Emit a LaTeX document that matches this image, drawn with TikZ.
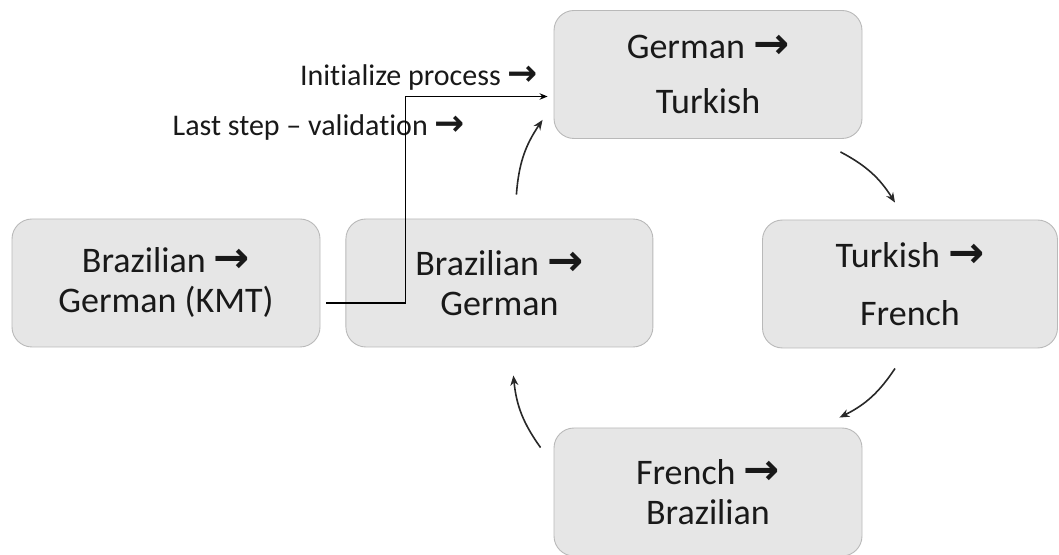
\documentclass[tikz,border=0pt]{standalone}
\usepackage{fontspec}
\setmainfont{Carlito}[Ligatures=NoCommon]
\newfontfamily\arrowfont{DejaVu Sans}[Scale=1.2]
\definecolor{boxfill}{RGB}{230,230,230}
\definecolor{boxline}{RGB}{185,185,185}
\definecolor{textgray}{RGB}{25,25,25}
\definecolor{arrowgray}{RGB}{40,40,40}
\usetikzlibrary{arrows.meta, positioning}
\newcommand{\langto}{{\arrowfont\bfseries →}}

\begin{document}
\begin{tikzpicture}[x=1pt, y=1pt,
      langbox/.style={rectangle, rounded corners=20pt, draw=boxline, fill=boxfill,
                      line width=0.9pt, minimum width=308pt, minimum height=128pt,
                      align=center, text=textgray, inner sep=0pt,
                      font=\fontsize{36}{40}\selectfont},
      flow/.style={-{Stealth[length=8pt, width=6.5pt]}, line width=1.1pt, color=black},
      looparrow/.style={-{Stealth[length=10pt, width=8pt]}, line width=1.6pt,
                        color=arrowgray, bend left=15},
      note/.style={font=\fontsize{30}{34}\selectfont, text=textgray, inner sep=0pt}
    ]
    \useasboundingbox (0,0) rectangle (1059,554);

    % Start pair
    \node[langbox] (brde-kmt) at (166,271) {Brazilian \langto\\German (KMT)};
    \node[langbox, minimum width=307pt, right=25pt of brde-kmt] (brde) {Brazilian \langto\\German};

    % Round of translations
    \node[langbox] (detr) at (708,479.5) {German \langto\\[15pt]Turkish};
    \node[langbox, minimum width=295pt] (trfr) at (910,270) {Turkish \langto\\[18pt]French};
    \node[langbox] (frbr) at (708,62) {French \langto\\Brazilian};

    % Notes
    \node[note, anchor=east] (init) at (538,476) {Initialize process \langto};
    \node[note, anchor=east] (last) at (465,426) {Last step -- validation \langto};

    \draw[flow, shorten <=6pt, shorten >=6pt] ([yshift=-20pt]brde-kmt.east) -- ++(85,0)
      |- ([yshift=-22pt]detr.west);

    % Cycle arrows
    \draw[looparrow] ([shift={(17,24)}]brde.north) to ([shift={(-11,19)}]detr.south west);
    \draw[looparrow] ([shift={(-22,-13)}]detr.south east) to ([shift={(-15,17)}]trfr.north);
    \draw[looparrow] ([shift={(-15,-20)}]trfr.south) to ([shift={(-23,10)}]frbr.north east);
    \draw[looparrow] ([shift={(-13,-20)}]frbr.north west) to ([shift={(14,-28)}]brde.south);

  \end{tikzpicture}
\end{document}
